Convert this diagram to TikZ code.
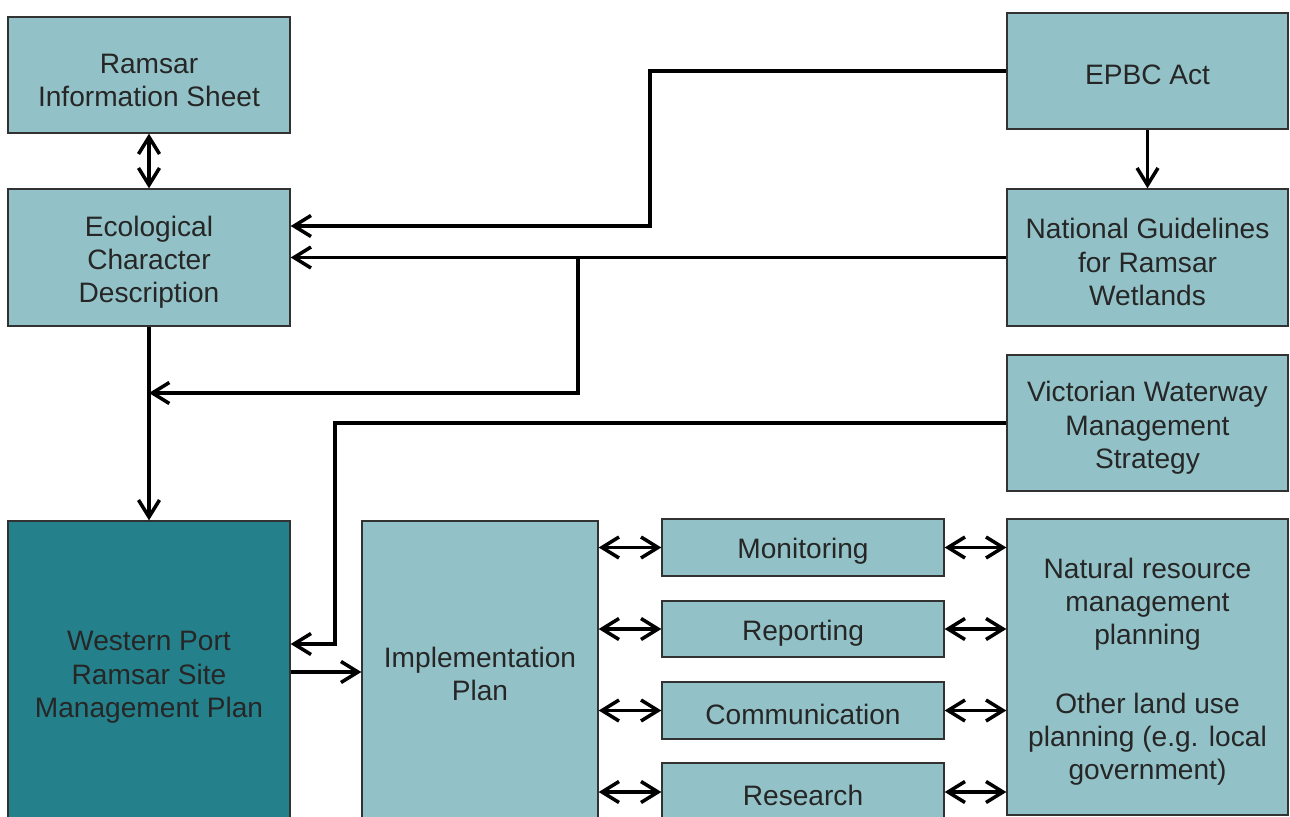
\documentclass[tikz,border=0pt]{standalone}
\usepackage{fontspec}
\setmainfont{Liberation Sans}
\usepackage{tikz}
\usetikzlibrary{positioning,arrows.meta,calc}
\usepackage{xcolor}
\definecolor{boxteal}{RGB}{146,194,199}
\definecolor{planteal}{RGB}{36,129,140}
\definecolor{boxline}{RGB}{50,50,50}
\newcommand{\firstline}{\rule{0pt}{17pt}}

\begin{document}
\begin{tikzpicture}[x=0.02cm,y=-0.02cm,
  box/.style={rectangle,draw=boxline,line width=0.8pt,fill=boxteal,text=black!85,
              align=center,font=\fontsize{16}{19}\selectfont,inner sep=0pt,
              execute at begin node={\rule{0pt}{16pt}}},
  arr/.style={-{Straight Barb[length=0.34cm,width=0.42cm]},black,line width=2pt},
  dbl/.style={{Straight Barb[length=0.34cm,width=0.42cm]}-{Straight Barb[length=0.34cm,width=0.42cm]},black,line width=2pt}
]
\useasboundingbox (0,0) rectangle (1290,817);
\clip (0,0) rectangle (1290,817);
% left column
\node[box,minimum width=5.64cm,minimum height=2.32cm] (ris) at (149,75) {\firstline Ramsar\\Information Sheet};
\node[box,minimum width=5.64cm,minimum height=2.74cm] (ecd) at (149,257.5) {\firstline Ecological\\Character\\Description};
\node[box,fill=planteal,minimum width=5.64cm,minimum height=6.04cm] (wp) at (149,672) {\firstline Western Port\\Ramsar Site\\Management Plan};
% middle
\node[box,minimum width=4.72cm,minimum height=6.12cm] (impl) at (480,674) {Implementation\\Plan};
\node[box,minimum width=5.64cm,minimum height=1.14cm] (mon) at (803,547.5) {Monitoring};
\node[box,minimum width=5.64cm,minimum height=1.12cm] (rep) at (803,629) {Reporting};
\node[box,minimum width=5.64cm,minimum height=1.14cm] (com) at (803,710.5) {Communication};
\node[box,minimum width=5.64cm,minimum height=1.16cm] (res) at (803,792) {Research};
% right column
\node[box,minimum width=5.62cm,minimum height=2.32cm] (epbc) at (1147.5,71) {EPBC Act};
\node[box,minimum width=5.62cm,minimum height=2.74cm] (ngr) at (1147.5,257.5) {\firstline National Guidelines\\for Ramsar\\Wetlands};
\node[box,minimum width=5.62cm,minimum height=2.72cm] (vwms) at (1147.5,423) {\firstline Victorian Waterway\\Management\\Strategy};
\node[box,minimum width=5.62cm,minimum height=5.92cm] (nrm) at (1147.5,667) {\firstline Natural resource\\management\\planning\\[0.7cm]Other land use\\planning (e.g. local\\government)};

\coordinate (split) at (578,257.5);
\coordinate (join) at (149,393);

\draw[dbl] (ris) -- (ecd);
\draw[arr] (ecd) -- (wp);
\draw[arr] (epbc) -- (ngr);
\draw[arr] (epbc.west) -| (650,150) |- ([yshift=0.63cm]ecd.east);
\draw[arr] (ngr.west) -- (ecd.east);
\draw[arr] (split) |- (join);
\draw[arr] (vwms.west) -| (335,540) |- ([yshift=0.56cm]wp.east);
\draw[arr] (wp.east) -- (wp.east -| impl.west);
\foreach \b in {mon,rep,com,res}{
  \draw[dbl] (\b.west -| impl.east) -- (\b.west);
  \draw[dbl] (\b.east) -- (\b.east -| nrm.west);
}
\end{tikzpicture}
\end{document}
